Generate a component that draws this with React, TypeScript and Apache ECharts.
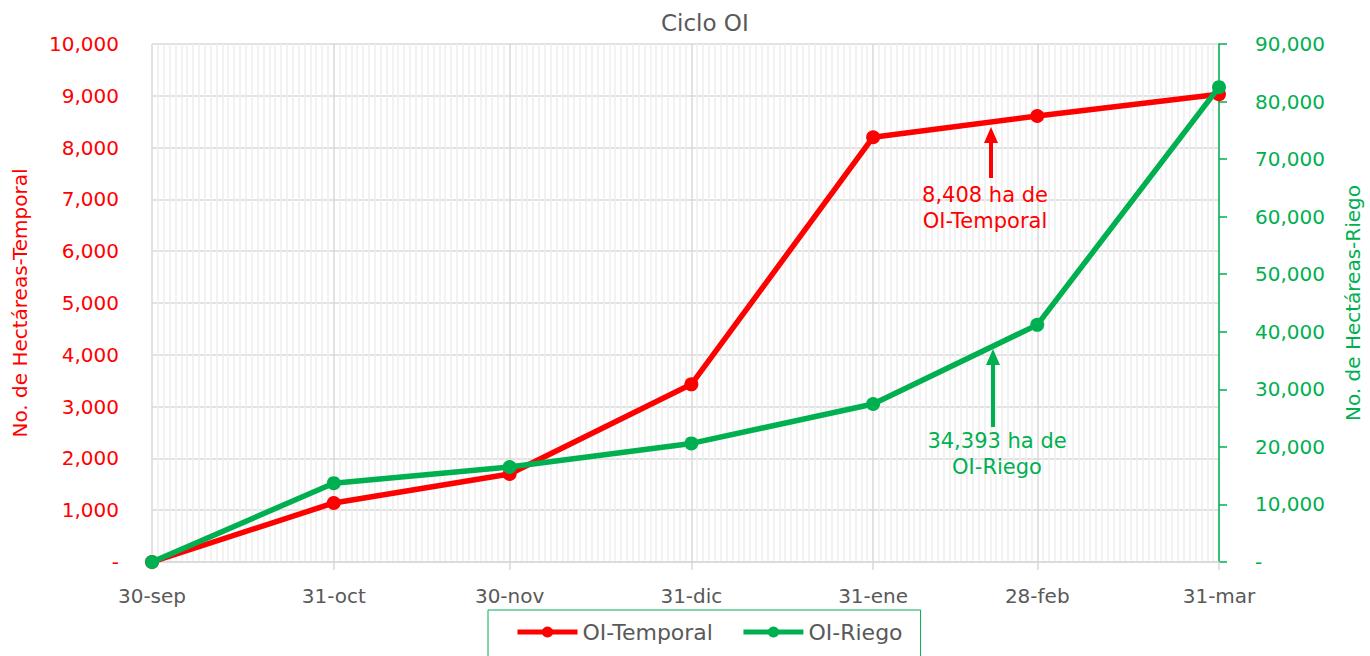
import React, { useEffect, useRef } from "react";
import * as echarts from "echarts";

// Days elapsed since 30-sep for each cut-off date
const dias = [0, 31, 61, 92, 123, 151, 182];
const fechas = ["30-sep", "31-oct", "30-nov", "31-dic", "31-ene", "28-feb", "31-mar"];
const temporal = [0, 1140, 1700, 3430, 8200, 8610, 9030];
const riego = [0, 13700, 16500, 20600, 27450, 41200, 82500];
const serieNombres = ["OI-Temporal", "OI-Riego"];
const anotacionTemporal = "8,408 ha de\nOI-Temporal";
const anotacionRiego = "34,393 ha de\nOI-Riego";

const ROJO = "#ff0000";
const VERDE = "#00b050";
const GRIS = "#595959";
const FONT = "DejaVu Sans";

const fmt = (v: number) => (v === 0 ? "-" : v.toLocaleString("en-US"));

export default function App() {
  const ref = useRef<HTMLDivElement>(null);

  useEffect(() => {
    document.body.style.margin = "0";
    if (!ref.current) return;
    const chart = echarts.init(ref.current, undefined, { renderer: "svg" });

    const maxDia = dias[dias.length - 1];
    const gridColors: string[] = [];
    for (let d = 0; d <= maxDia; d++) {
      gridColors.push(dias.includes(d) ? "#d9d9d9" : "#eeeeee");
    }

    const option: any = {
      animation: false,
      textStyle: { fontFamily: FONT },
      title: {
        text: "Ciclo OI",
        left: 656,
        top: 6,
        textStyle: { fontSize: 23, fontWeight: "normal", color: GRIS, fontFamily: FONT },
      },
      grid: { left: 152, right: 151, top: 44, bottom: 94, outerBoundsMode: "none", containLabel: false },
      legend: {
        data: serieNombres,
        left: 488,
        top: 610,
        orient: "horizontal",
        borderColor: VERDE,
        borderWidth: 1,
        padding: [11, 18, 17, 27],
        itemWidth: 60,
        itemHeight: 14,
        itemGap: 28,
        lineStyle: { width: 5 },
        textStyle: { fontSize: 22, color: GRIS, fontFamily: FONT },
      },
      xAxis: [
        {
          type: "value",
          min: 0,
          max: maxDia,
          interval: 1,
          position: "bottom",
          axisLine: { show: true, onZero: false, lineStyle: { color: "#d9d9d9", width: 1.5 } },
          axisTick: { show: false },
          axisLabel: {
            margin: 24,
            fontSize: 20,
            color: GRIS,
            fontFamily: FONT,
            formatter: (v: number) => {
              const i = dias.indexOf(Math.round(v));
              return i >= 0 ? fechas[i] : "";
            },
          },
          splitLine: { show: true, lineStyle: { color: gridColors, width: 1.5 } },
        },
        {
          type: "value",
          min: 0,
          max: maxDia,
          position: "bottom",
          axisLine: { show: false, onZero: false },
          axisTick: {
            show: true,
            customValues: dias,
            length: 8,
            lineStyle: { color: "#d9d9d9", width: 1.5 },
          },
          axisLabel: { show: false },
          splitLine: { show: false },
        },
      ],
      yAxis: [
        {
          type: "value",
          min: 0,
          max: 10000,
          interval: 1000,
          position: "left",
          name: "No. de Hectáreas-Temporal",
          nameLocation: "middle",
          nameGap: 122,
          nameTextStyle: { fontSize: 20, color: ROJO, fontFamily: FONT },
          axisLine: { show: false, onZero: false },
          axisTick: { show: false },
          axisLabel: { margin: 33, fontSize: 20, color: ROJO, fontFamily: FONT, formatter: fmt },
          splitLine: { show: true, lineStyle: { color: "#d9d9d9", width: 1.5 } },
        },
        {
          type: "value",
          min: 0,
          max: 90000,
          interval: 10000,
          position: "right",
          name: "No. de Hectáreas-Riego",
          nameLocation: "middle",
          nameGap: 124,
          nameTextStyle: { fontSize: 20, color: VERDE, fontFamily: FONT },
          axisLine: { show: true, onZero: false, lineStyle: { color: VERDE, width: 1.5 } },
          axisTick: { show: true, inside: false, length: 8, lineStyle: { color: VERDE, width: 1.5 } },
          axisLabel: { margin: 36, fontSize: 20, color: VERDE, fontFamily: FONT, formatter: fmt },
          splitLine: { show: false },
        },
      ],
      series: [
        {
          name: serieNombres[0],
          type: "line",
          xAxisIndex: 0,
          yAxisIndex: 0,
          data: dias.map((d, i) => [d, temporal[i]]),
          symbol: "circle",
          symbolSize: 14,
          lineStyle: { color: ROJO, width: 5.5 },
          itemStyle: { color: ROJO },
          z: 3,
        },
        {
          name: serieNombres[1],
          type: "line",
          xAxisIndex: 0,
          yAxisIndex: 1,
          data: dias.map((d, i) => [d, riego[i]]),
          symbol: "circle",
          symbolSize: 14,
          lineStyle: { color: VERDE, width: 5.5 },
          itemStyle: { color: VERDE },
          z: 4,
        },
      ],
      graphic: [
        {
          type: "line",
          shape: { x1: 991, y1: 178, x2: 991, y2: 140 },
          style: { stroke: ROJO, lineWidth: 4 },
          z: 10,
        },
        {
          type: "polygon",
          shape: { points: [[984, 143], [998, 143], [991, 127]] },
          style: { fill: ROJO },
          z: 10,
        },
        {
          type: "text",
          x: 985,
          y: 182,
          style: {
            text: anotacionTemporal,
            fill: ROJO,
            fontSize: 21,
            fontFamily: FONT,
            align: "center",
            verticalAlign: "top",
            lineHeight: 26,
          },
          z: 10,
        },
        {
          type: "line",
          shape: { x1: 993, y1: 427, x2: 993, y2: 362 },
          style: { stroke: VERDE, lineWidth: 4 },
          z: 10,
        },
        {
          type: "polygon",
          shape: { points: [[986, 365], [1000, 365], [993, 349]] },
          style: { fill: VERDE },
          z: 10,
        },
        {
          type: "text",
          x: 997,
          y: 428,
          style: {
            text: anotacionRiego,
            fill: VERDE,
            fontSize: 21,
            fontFamily: FONT,
            align: "center",
            verticalAlign: "top",
            lineHeight: 26,
          },
          z: 10,
        },
      ],
    };

    chart.setOption(option);
    return () => chart.dispose();
  }, []);

  return <div ref={ref} style={{ width: 1370, height: 656 }} />;
}
